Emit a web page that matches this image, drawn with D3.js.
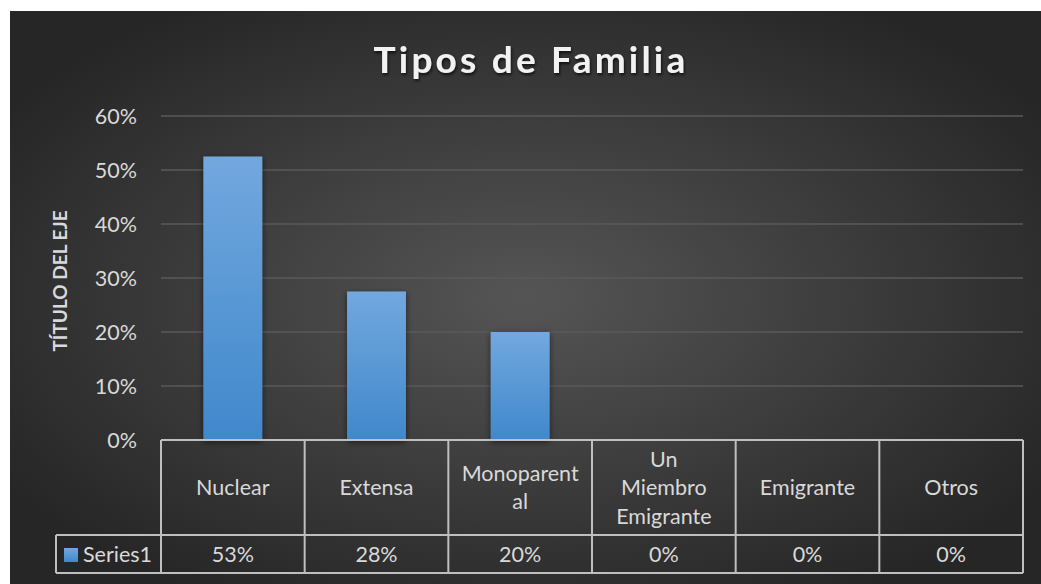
<!DOCTYPE html>
<html><head><meta charset="utf-8">
<script src="https://cdn.jsdelivr.net/npm/d3@7"></script>
<style>body{margin:0;background:#fff;}svg{display:block;}</style>
</head><body>
<svg id="c" width="1041" height="584"></svg>
<script>
const title = "Tipos de Familia";
const yAxisTitle = "TÍTULO DEL EJE";
const seriesName = "Series1";
const categories = ["Nuclear","Extensa","Monoparental","Un Miembro Emigrante","Emigrante","Otros"];
const categoryLines = [["Nuclear"],["Extensa"],["Monoparent","al"],["Un","Miembro","Emigrante"],["Emigrante"],["Otros"]];
const values = [0.525, 0.275, 0.20, 0, 0, 0];
const valueLabels = ["53%","28%","20%","0%","0%","0%"];
const yTicks = [0,0.1,0.2,0.3,0.4,0.5,0.6];

const svg = d3.select("#c");
const defs = svg.append("defs");
const bg = defs.append("radialGradient").attr("id","bg").attr("cx","50%").attr("cy","50%").attr("r","60%");
bg.append("stop").attr("offset","0%").attr("stop-color","#555555");
bg.append("stop").attr("offset","100%").attr("stop-color","#262626");
const bar = defs.append("linearGradient").attr("id","bar").attr("x1",0).attr("y1",0).attr("x2",0).attr("y2",1);
bar.append("stop").attr("offset","0%").attr("stop-color","#72a8de");
bar.append("stop").attr("offset","100%").attr("stop-color","#4088cc");
const sh = defs.append("filter").attr("id","sh").attr("x","-20%").attr("y","-20%").attr("width","140%").attr("height","140%");
sh.append("feDropShadow").attr("dx",0).attr("dy",2).attr("stdDeviation",3).attr("flood-color","#000").attr("flood-opacity",0.55);
const tsh = defs.append("filter").attr("id","tsh").attr("x","-10%").attr("y","-30%").attr("width","120%").attr("height","160%");
tsh.append("feDropShadow").attr("dx",1).attr("dy",2).attr("stdDeviation",1.5).attr("flood-color","#000").attr("flood-opacity",0.7);

svg.append("rect").attr("x",10).attr("y",11).attr("width",1031).attr("height",573).attr("fill","url(#bg)");

const L = 161, R = 1023, T = 116, B = 440;
const x = d3.scaleBand().domain(categories).range([L,R]).paddingInner(0.59).paddingOuter(0.295);
const xc = d3.scaleBand().domain(categories).range([L,R]);
const y = d3.scaleLinear().domain([0,0.6]).range([B,T]);
const font = "Lato, 'Open Sans', sans-serif";
const txt = "#d9d9d9";
const fs = 21.5;

// gridlines
svg.append("g").selectAll("line").data(yTicks.filter(d=>d>0)).join("line")
  .attr("x1",L).attr("x2",R).attr("y1",d=>y(d)).attr("y2",d=>y(d))
  .attr("stroke","#5a5a5a").attr("stroke-width",1.5);

// y axis labels
const yAxis = d3.axisLeft(y).tickValues(yTicks).tickFormat(d3.format(".0%")).tickSize(0).tickPadding(24);
const ga = svg.append("g").attr("transform",`translate(${L},0)`).call(yAxis);
ga.select(".domain").remove();
ga.selectAll("text").attr("fill",txt).attr("font-family",font).attr("font-size",fs).attr("dy","0.35em");

// bars
svg.append("g").selectAll("rect").data(values).join("rect")
  .attr("x",(d,i)=>x(categories[i])).attr("width",x.bandwidth())
  .attr("y",d=>y(d)).attr("height",d=>B-y(d))
  .attr("fill","url(#bar)").attr("filter","url(#sh)");

// title
svg.append("text").attr("x",531).attr("y",73).attr("text-anchor","middle")
  .attr("font-family",font).attr("font-weight","bold").attr("font-size",37)
  .attr("letter-spacing","3.2px").attr("fill","#f2f2f2").attr("filter","url(#tsh)").text(title);

// y axis title
svg.append("text").attr("transform","translate(67,281) rotate(-90)").attr("text-anchor","middle")
  .attr("font-family",font).attr("font-weight","bold").attr("font-size",19)
  .attr("fill",txt).text(yAxisTitle);

// data table
const rowTop = B, rowMid = 535, rowBot = 573, legL = 56;
const tbl = svg.append("g").attr("stroke","#bfbfbf").attr("stroke-width",2).attr("fill","none");
tbl.append("line").attr("x1",L).attr("x2",R).attr("y1",rowTop).attr("y2",rowTop);
tbl.append("line").attr("x1",legL).attr("x2",R).attr("y1",rowMid).attr("y2",rowMid);
tbl.append("line").attr("x1",legL).attr("x2",R).attr("y1",rowBot).attr("y2",rowBot);
tbl.append("line").attr("x1",legL).attr("x2",legL).attr("y1",rowMid).attr("y2",rowBot);
tbl.selectAll(".v").data(categories.concat(["__end"])).join("line")
  .attr("x1",(d,i)=>i<categories.length?xc(d):R).attr("x2",(d,i)=>i<categories.length?xc(d):R)
  .attr("y1",rowTop).attr("y2",rowBot);

// category labels
const lh = 28.5;
categories.forEach((c,i)=>{
  const lines = categoryLines[i];
  const cy = (rowTop+rowMid)/2;
  const t = svg.append("text").attr("text-anchor","middle").attr("font-family",font).attr("font-size",fs).attr("fill",txt);
  lines.forEach((ln,j)=>{
    t.append("tspan").attr("x",xc(c)+xc.bandwidth()/2)
     .attr("y",cy + (j-(lines.length-1)/2)*lh).attr("dy","0.35em").text(ln);
  });
});
// values
svg.append("g").selectAll("text").data(valueLabels).join("text")
  .attr("x",(d,i)=>xc(categories[i])+xc.bandwidth()/2).attr("y",(rowMid+rowBot)/2).attr("dy","0.35em")
  .attr("text-anchor","middle").attr("font-family",font).attr("font-size",fs).attr("fill",txt).text(d=>d);
// legend
svg.append("rect").attr("x",64).attr("y",548).attr("width",14).attr("height",14).attr("fill","url(#bar)");
svg.append("text").attr("x",83).attr("y",(rowMid+rowBot)/2).attr("dy","0.35em")
  .attr("font-family",font).attr("font-size",fs).attr("fill",txt).text(seriesName);
</script>
</body></html>
